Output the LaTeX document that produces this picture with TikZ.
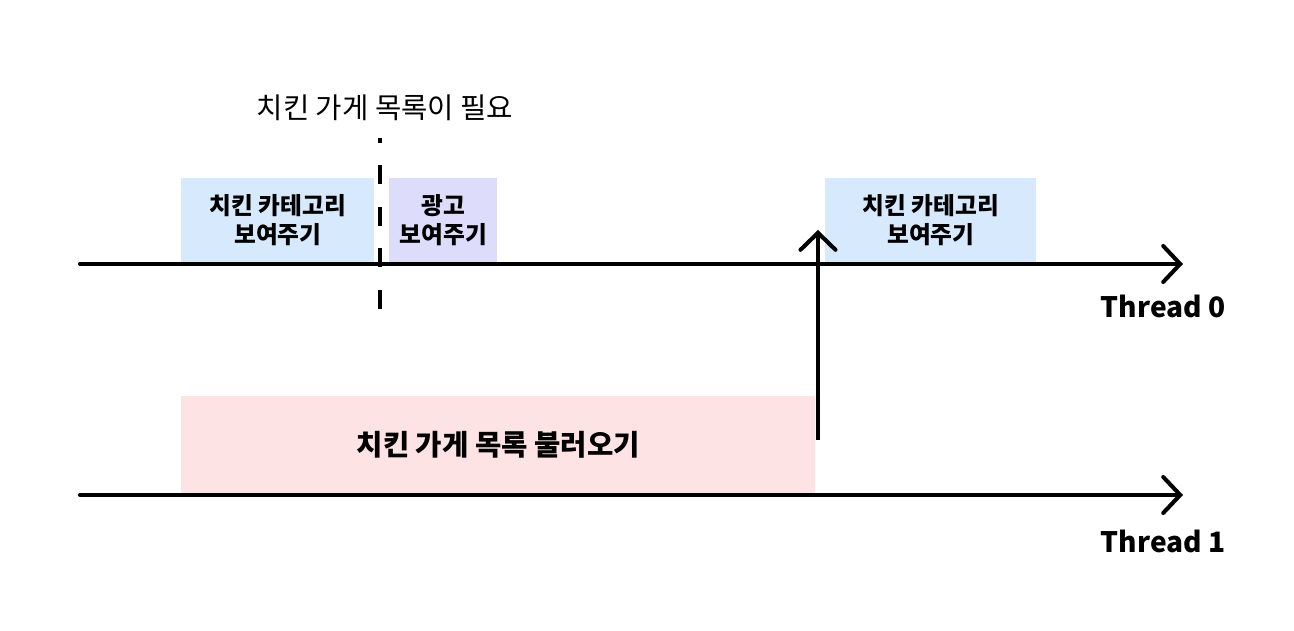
\documentclass[tikz,border=0pt]{standalone}
\usepackage{fontspec}
\setmainfont{Noto Sans CJK KR}
\usetikzlibrary{arrows.meta,positioning}
\definecolor{cShow}{HTML}{D7E9FC}
\definecolor{cAd}{HTML}{DDDDFB}
\definecolor{cLoad}{HTML}{FDE3E3}
\tikzset{
  tsk/.style  = {rectangle, fill=#1, inner sep=0pt, align=center, anchor=south west,
                 font=\fontsize{13.5pt}{16.5pt}\selectfont\bfseries},
  tsk/.default = cShow,
  tl/.style   = {-{Straight Barb[length=0.34cm, width=0.72cm, line cap=round]},
                 line width=2.3pt, line cap=round},
  fl/.style   = {-{Straight Barb[length=0.34cm, width=0.7cm, line cap=round]},
                 line width=2.3pt},
  cut/.style  = {line width=2pt, dash pattern=on 0.38cm off 0.45cm, dash phase=0.28cm},
  lab/.style  = {font=\fontsize{16pt}{19pt}\selectfont\bfseries, anchor=east, inner sep=0pt},
}
\begin{document}
\begin{tikzpicture}
  \useasboundingbox (0,0) rectangle (25.88,12.62);

  % threads
  \coordinate (t0s) at (1.6,7.34);  \coordinate (t0e) at (23.66,7.34);
  \coordinate (t1s) at (1.6,2.72);  \coordinate (t1e) at (23.66,2.72);

  \node[tsk, minimum width=3.86cm, minimum height=1.7cm] (show1) at (3.62,7.36)
    {치킨 카테고리\\보여주기};
  \node[tsk=cAd, minimum width=2.16cm, minimum height=1.7cm] (ad) at (7.78,7.36)
    {광고\\보여주기};
  \node[tsk, minimum width=4.22cm, minimum height=1.7cm] (show2) at (16.5,7.36)
    {치킨 카테고리\\보여주기};
  \node[tsk=cLoad, minimum width=12.68cm, minimum height=1.96cm,
        font=\fontsize{16.3pt}{19pt}\selectfont\bfseries] (load) at (3.62,2.74)
    {치킨 가게 목록 불러오기};

  \draw[tl] (t0s) -- (t0e);
  \draw[tl] (t1s) -- (t1e);
  \node[lab] (th0) at (24.52,6.5) {Thread 0};
  \node[lab] (th1) at (24.52,1.8) {Thread 1};

  % need point
  \node[font=\fontsize{16.3pt}{19pt}\selectfont] (need) at (7.7,10.46) {치킨 가게 목록이 필요};
  \coordinate (cuttop) at (7.6,9.86);
  \coordinate (cutbot) at (7.6,6.42);
  \draw[cut] (cuttop) -- (cutbot);

  % result handed back
  \coordinate (done) at (16.36,3.82);
  \coordinate (wake) at (16.36,8.02);
  \draw[fl] (done) -- (wake);
\end{tikzpicture}
\end{document}
